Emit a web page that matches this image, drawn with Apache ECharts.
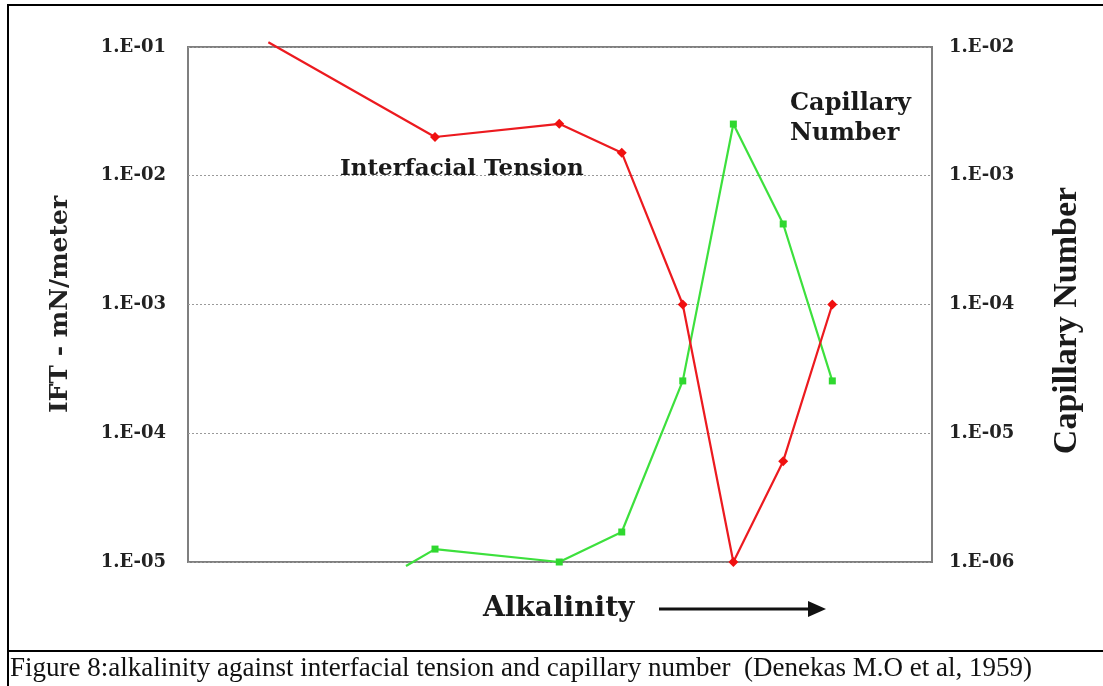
<!DOCTYPE html>
<html>
<head>
<meta charset="utf-8">
<script src="https://cdn.jsdelivr.net/npm/echarts@6/dist/echarts.min.js"></script>
<style>
html,body{margin:0;padding:0;background:#fff;}
#chart{width:1103px;height:686px;}
</style>
</head>
<body>
<div id="chart"></div>
<script>
// Alkalinity position (arbitrary units, no tick labels on the original)
const iftX = [10.8, 33.2, 49.9, 58.3, 66.5, 73.3, 80.0, 86.6];
const iftValues = [0.109, 0.020, 0.0253, 0.0151, 0.001, 0.00001, 0.0000607, 0.001];
const capX = [29.3, 33.2, 49.9, 58.3, 66.5, 73.3, 80.0, 86.6];
const capValues = [9.3e-7, 1.26e-6, 1.0e-6, 1.71e-6, 2.55e-5, 2.52e-3, 4.22e-4, 2.55e-5];
const leftTitle = 'IFT - mN/meter';
const rightTitle = 'Capillary Number';
const xTitle = 'Alkalinity';
const iftLabel = 'Interfacial Tension';
const capLabel = 'Capillary\nNumber';
const caption = 'Figure 8:alkalinity against interfacial tension and capillary number  (Denekas M.O et al, 1959)';

function sciLabel(v) {
  const e = Math.round(Math.log10(v));
  const a = Math.abs(e);
  return '1.E' + (e < 0 ? '-' : '+') + (a < 10 ? '0' + a : a);
}

const tickFont = {fontFamily: 'DejaVu Serif', fontWeight: 'bold', fontSize: 18, color: '#222'};

const chart = echarts.init(document.getElementById('chart'), null, {renderer: 'canvas'});
chart.setOption({
  backgroundColor: '#ffffff',
  animation: false,
  grid: {left: 188, right: 171, top: 47, bottom: 124, show: true, borderColor: '#7f7f7f', borderWidth: 2, backgroundColor: 'transparent'},
  xAxis: {
    type: 'value', min: 0, max: 100,
    axisLine: {show: false}, axisTick: {show: false}, axisLabel: {show: false}, splitLine: {show: false}
  },
  yAxis: [
    {
      type: 'log', logBase: 10, min: 1e-5, max: 1e-1, position: 'left',
      axisLine: {show: false}, axisTick: {show: false},
      axisLabel: Object.assign({margin: 22, formatter: sciLabel}, tickFont),
      splitLine: {show: true, lineStyle: {type: [2, 2], color: '#9a9a9a', width: 1}},
      name: leftTitle, nameLocation: 'middle', nameRotate: 90, nameGap: 115,
      nameTextStyle: {fontFamily: 'DejaVu Serif', fontWeight: 'bold', fontSize: 25, color: '#222'}
    },
    {
      type: 'log', logBase: 10, min: 1e-6, max: 1e-2, position: 'right',
      axisLine: {show: false}, axisTick: {show: false},
      axisLabel: Object.assign({margin: 17, formatter: sciLabel}, tickFont),
      splitLine: {show: false},
      name: rightTitle, nameLocation: 'middle', nameRotate: 90, nameGap: 118,
      nameTextStyle: {fontFamily: 'Liberation Serif', fontWeight: 'bold', fontSize: 34, color: '#1a1a1a', padding: [0, 32, 0, 0]}
    }
  ],
  series: [
    {
      name: 'Interfacial Tension', type: 'line', yAxisIndex: 0, clip: false,
      data: iftX.map((x, i) => i === 0 ? {value: [x, iftValues[i]], symbol: 'none'} : [x, iftValues[i]]),
      symbol: 'diamond', symbolSize: 10, showSymbol: true,
      lineStyle: {color: '#ec1a1f', width: 2.2}, itemStyle: {color: '#f01010'}, z: 3
    },
    {
      name: 'Capillary Number', type: 'line', yAxisIndex: 1, clip: false,
      data: capX.map((x, i) => i === 0 ? {value: [x, capValues[i]], symbol: 'none'} : [x, capValues[i]]),
      symbol: 'rect', symbolSize: 7, showSymbol: true,
      lineStyle: {color: '#3de03d', width: 2.2}, itemStyle: {color: '#2fd82f'}, z: 2
    }
  ],
  graphic: [
    {type: 'text', left: 340, top: 158, style: {text: iftLabel, font: 'bold 23px "DejaVu Serif"', fill: '#1a1a1a'}},
    {type: 'text', left: 790, top: 89, style: {text: capLabel, font: 'bold 24px "DejaVu Serif"', fill: '#1a1a1a', lineHeight: 30}},
    {type: 'text', left: 483, top: 595, style: {text: xTitle, font: 'bold 28px "DejaVu Serif"', fill: '#1a1a1a'}},
    {type: 'line', shape: {x1: 659, y1: 609, x2: 812, y2: 609}, style: {stroke: '#111', lineWidth: 3}},
    {type: 'polygon', shape: {points: [[808, 601], [826, 609], [808, 617]]}, style: {fill: '#111'}},
    {type: 'line', shape: {x1: 8, y1: 5, x2: 1103, y2: 5}, style: {stroke: '#000', lineWidth: 2}},
    {type: 'line', shape: {x1: 8, y1: 4, x2: 8, y2: 686}, style: {stroke: '#000', lineWidth: 2}},
    {type: 'line', shape: {x1: 8, y1: 651, x2: 1103, y2: 651}, style: {stroke: '#000', lineWidth: 2}},
    {type: 'text', left: 10, top: 655, style: {text: caption, font: '27px "Liberation Serif"', fill: '#111'}}
  ]
});
</script>
</body>
</html>
